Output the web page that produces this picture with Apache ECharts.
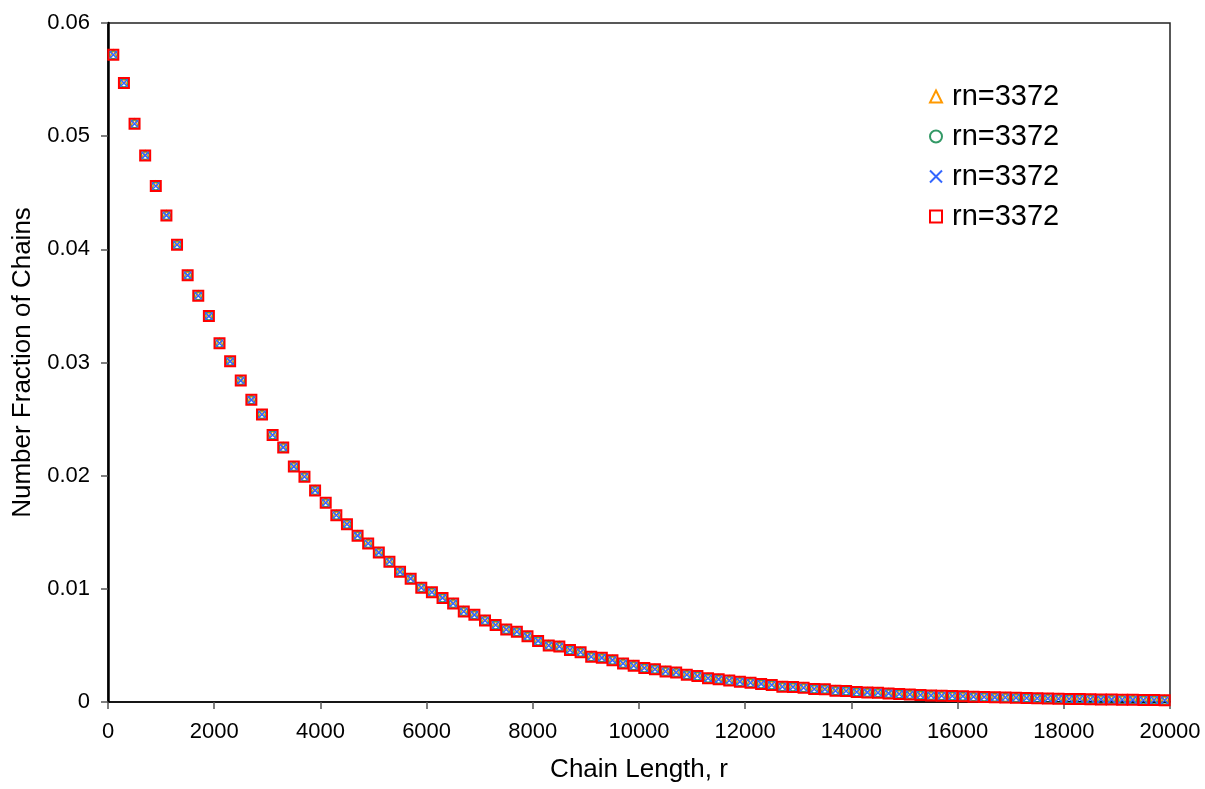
<!DOCTYPE html>
<html>
<head>
<meta charset="utf-8">
<title>Number Fraction of Chains</title>
<script src="https://cdn.jsdelivr.net/npm/echarts@6/dist/echarts.min.js"></script>
<style>
  html, body { margin: 0; padding: 0; background: #ffffff; }
  #chart { width: 1205px; height: 789px; }
</style>
</head>
<body>
<div id="chart"></div>
<script>
// Chain length r (bin centres)
const chainLength = [
  100, 300, 500, 700, 900, 1100, 1300, 1500, 1700, 1900,
  2100, 2300, 2500, 2700, 2900, 3100, 3300, 3500, 3700, 3900,
  4100, 4300, 4500, 4700, 4900, 5100, 5300, 5500, 5700, 5900,
  6100, 6300, 6500, 6700, 6900, 7100, 7300, 7500, 7700, 7900,
  8100, 8300, 8500, 8700, 8900, 9100, 9300, 9500, 9700, 9900,
  10100, 10300, 10500, 10700, 10900, 11100, 11300, 11500, 11700, 11900,
  12100, 12300, 12500, 12700, 12900, 13100, 13300, 13500, 13700, 13900,
  14100, 14300, 14500, 14700, 14900, 15100, 15300, 15500, 15700, 15900,
  16100, 16300, 16500, 16700, 16900, 17100, 17300, 17500, 17700, 17900,
  18100, 18300, 18500, 18700, 18900, 19100, 19300, 19500, 19700, 19900
];

// Number fraction of chains at each chain length
const numberFraction = [
  0.0572, 0.0547, 0.0511, 0.0483, 0.0456, 0.0430, 0.0404, 0.0377, 0.0359, 0.0341,
  0.0317, 0.0301, 0.0284, 0.0267, 0.0254, 0.0236, 0.0225, 0.0208, 0.0199, 0.0187,
  0.0176, 0.0165, 0.0157, 0.0147, 0.0140, 0.0132, 0.0124, 0.0115, 0.0109, 0.0101,
  0.0097, 0.0092, 0.0087, 0.0080, 0.0077, 0.0072, 0.0068, 0.0064, 0.0062, 0.0058,
  0.0054, 0.0050, 0.0049, 0.0046, 0.0044, 0.0040, 0.0039, 0.0037, 0.0034, 0.0032,
  0.0030, 0.0029, 0.0027, 0.0026, 0.0024, 0.0023, 0.0021, 0.0020, 0.0019, 0.0018,
  0.0017, 0.0016, 0.0015, 0.00135, 0.00133, 0.00126, 0.00115, 0.00112, 0.00100, 0.00097,
  0.00088, 0.00085, 0.00082, 0.00076, 0.00071, 0.00067, 0.00062, 0.00058, 0.00055, 0.00053,
  0.00050, 0.00047, 0.00044, 0.00041, 0.00040, 0.00037, 0.00035, 0.00033, 0.00031, 0.00029,
  0.00027, 0.00026, 0.00024, 0.00023, 0.00021, 0.00020, 0.00019, 0.00018, 0.00017, 0.00016
];

// Four runs, each with the same number-average chain length
const seriesIds = ['runA', 'runB', 'runC', 'runD'];
const seriesLabels = ['rn=3372', 'rn=3372', 'rn=3372', 'rn=3372'];
const seriesColors = ['#ff9900', '#339966', '#3366ff', '#ff0000'];

const xTicks = { min: 0, max: 20000, interval: 2000 };
const yTicks = { min: 0, max: 0.06, interval: 0.01 };

const points = chainLength.map((r, i) => [r, numberFraction[i]]);

const markerStyles = [
  { symbol: 'triangle', symbolSize: 9, borderWidth: 1.5 },
  { symbol: 'circle', symbolSize: 8, borderWidth: 1.5 },
  { symbol: 'path://M0,0L10,10M10,0L0,10', symbolSize: 8, borderWidth: 1.5 },
  { symbol: 'rect', symbolSize: 10, borderWidth: 2 }
];

const font = "'Liberation Sans', Arial, Helvetica, sans-serif";
const labelMap = {};
seriesIds.forEach((id, i) => { labelMap[id] = seriesLabels[i]; });

const chart = echarts.init(document.getElementById('chart'), null, { renderer: 'canvas' });

chart.setOption({
  backgroundColor: '#ffffff',
  animation: false,
  grid: {
    left: 108, right: 35, top: 23, bottom: 87,
    show: true, borderColor: '#222222', borderWidth: 1.5, backgroundColor: '#ffffff'
  },
  legend: {
    orient: 'vertical',
    left: 924,
    top: 77,
    itemWidth: 12,
    itemHeight: 12,
    itemGap: 11,
    selectedMode: false,
    formatter: name => labelMap[name],
    textStyle: { fontFamily: font, fontSize: 29, lineHeight: 29, color: '#000000', padding: [0, 0, 0, 5] },
    data: seriesIds
  },
  xAxis: {
    type: 'value',
    min: xTicks.min, max: xTicks.max, interval: xTicks.interval,
    name: 'Chain Length, r',
    nameLocation: 'middle',
    nameGap: 55,
    nameTextStyle: { fontFamily: font, fontSize: 26, color: '#000000' },
    axisLine: { onZero: false, lineStyle: { color: '#000000', width: 1.5 } },
    axisTick: { show: true, inside: false, length: 7, lineStyle: { color: '#555555', width: 1.5 } },
    axisLabel: {
      fontFamily: font, fontSize: 22, color: '#000000', margin: 19,
      formatter: v => String(v)
    },
    splitLine: { show: false }
  },
  yAxis: {
    type: 'value',
    min: yTicks.min, max: yTicks.max, interval: yTicks.interval,
    name: 'Number Fraction of Chains',
    nameLocation: 'middle',
    nameGap: 72,
    nameTextStyle: { fontFamily: font, fontSize: 26, color: '#000000' },
    axisLine: { onZero: false, lineStyle: { color: '#000000', width: 2.5 } },
    axisTick: { show: true, inside: false, length: 7, lineStyle: { color: '#555555', width: 1.5 } },
    axisLabel: {
      fontFamily: font, fontSize: 22, color: '#000000', margin: 18,
      formatter: v => (v === 0 ? '0' : v.toFixed(2))
    },
    splitLine: { show: false }
  },
  series: seriesIds.map((id, i) => ({
    name: id,
    type: 'scatter',
    data: points,
    symbol: markerStyles[i].symbol,
    symbolSize: markerStyles[i].symbolSize,
    z: 2 + i,
    itemStyle: {
      color: 'rgba(0,0,0,0)',
      borderColor: seriesColors[i],
      borderWidth: markerStyles[i].borderWidth,
      opacity: 1
    },
    emphasis: { disabled: true }
  }))
});
</script>
</body>
</html>
